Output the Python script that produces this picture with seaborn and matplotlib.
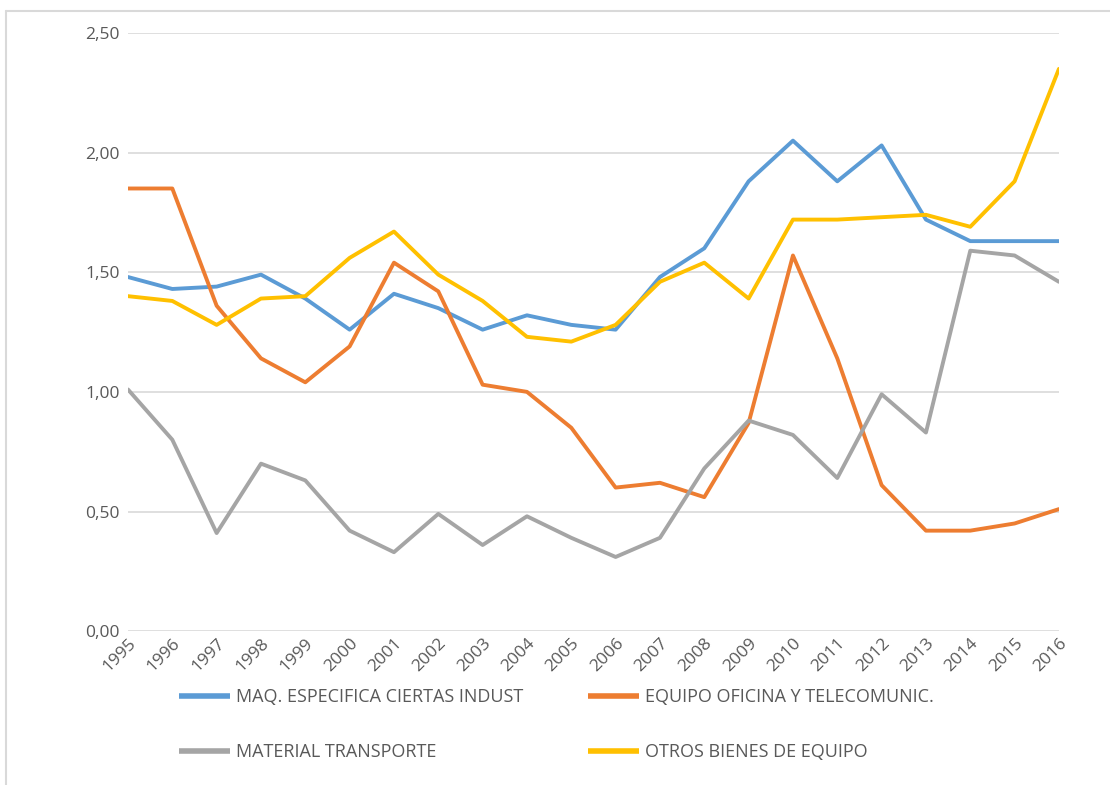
import pandas as pd
import seaborn as sns
import matplotlib.pyplot as plt
from matplotlib.ticker import FuncFormatter
from matplotlib.lines import Line2D

# Data
years = list(range(1995, 2017))

maq_especifica = [1.48, 1.43, 1.44, 1.49, 1.39, 1.26, 1.41, 1.35, 1.26, 1.32, 1.28,
                  1.26, 1.48, 1.60, 1.88, 2.05, 1.88, 2.03, 1.72, 1.63, 1.63, 1.63]
equipo_oficina = [1.85, 1.85, 1.36, 1.14, 1.04, 1.19, 1.54, 1.42, 1.03, 1.00, 0.85,
                  0.60, 0.62, 0.56, 0.87, 1.57, 1.14, 0.61, 0.42, 0.42, 0.45, 0.51]
material_transporte = [1.01, 0.80, 0.41, 0.70, 0.63, 0.42, 0.33, 0.49, 0.36, 0.48, 0.39,
                       0.31, 0.39, 0.68, 0.88, 0.82, 0.64, 0.99, 0.83, 1.59, 1.57, 1.46]
otros_bienes = [1.40, 1.38, 1.28, 1.39, 1.40, 1.56, 1.67, 1.49, 1.38, 1.23, 1.21,
                1.28, 1.46, 1.54, 1.39, 1.72, 1.72, 1.73, 1.74, 1.69, 1.88, 2.35]

series_names = ['MAQ. ESPECIFICA CIERTAS INDUST', 'EQUIPO OFICINA Y TELECOMUNIC.',
                'MATERIAL TRANSPORTE', 'OTROS BIENES DE EQUIPO']
series_values = [maq_especifica, equipo_oficina, material_transporte, otros_bienes]
colors = ['#5B9BD5', '#ED7D31', '#A5A5A5', '#FFC000']

# Long-form table for seaborn
frames = []
for name, vals in zip(series_names, series_values):
    frames.append(pd.DataFrame({'Year': years, 'Value': vals, 'Serie': name}))
data = pd.concat(frames, ignore_index=True)

sns.set_style('white')
plt.rcParams['font.family'] = ['Open Sans', 'DejaVu Sans']

fig = plt.figure(figsize=(11.1, 7.85), dpi=100)
ax = fig.add_axes([0.1153, 0.196, 0.8387, 0.762])

sns.lineplot(data=data, x='Year', y='Value', hue='Serie', hue_order=series_names,
             palette=colors, linewidth=2.8, ax=ax, legend=False)

ax.set_xlim(1995, 2016)
ax.set_ylim(0, 2.5)
ax.set_yticks([0, 0.5, 1.0, 1.5, 2.0, 2.5])
ax.yaxis.set_major_formatter(FuncFormatter(lambda v, p: f'{v:.2f}'.replace('.', ',')))
ax.set_xticks(years)
ax.set_xticklabels([str(y) for y in years], rotation=45, ha='right',
                   rotation_mode='anchor')
ax.tick_params(axis='both', length=0, colors='#595959', labelsize=12.5)
ax.tick_params(axis='x', pad=3)
ax.tick_params(axis='y', pad=6)
ax.grid(axis='y', color='#D9D9D9', linewidth=1.2)
ax.set_axisbelow(True)
for s in ax.spines.values():
    s.set_visible(False)
ax.set_xlabel('')
ax.set_ylabel('')

# Legend: row 1 -> MAQ, EQUIPO ; row 2 -> MATERIAL, OTROS
handles = [Line2D([], [], color=c, linewidth=4, solid_capstyle='butt') for c in colors]
order = [0, 2, 1, 3]
leg = fig.legend([handles[i] for i in order], [series_names[i] for i in order],
                 ncol=2, loc='upper left', bbox_to_anchor=(0.1613, 0.123),
                 frameon=False, fontsize=13, labelcolor='#595959',
                 handlelength=2.8, handletextpad=0.35, labelspacing=2.05,
                 columnspacing=3.6, borderaxespad=0, borderpad=0)

# Light border (left and top edges visible in the reference)
fig.add_artist(Line2D([6 / 1110, 6 / 1110], [0, 1 - 11 / 785], transform=fig.transFigure,
                      color='#D9D9D9', linewidth=1.5))
fig.add_artist(Line2D([6 / 1110, 1], [1 - 11 / 785, 1 - 11 / 785], transform=fig.transFigure,
                      color='#D9D9D9', linewidth=1.5))

fig.savefig('out.png', dpi=100)
